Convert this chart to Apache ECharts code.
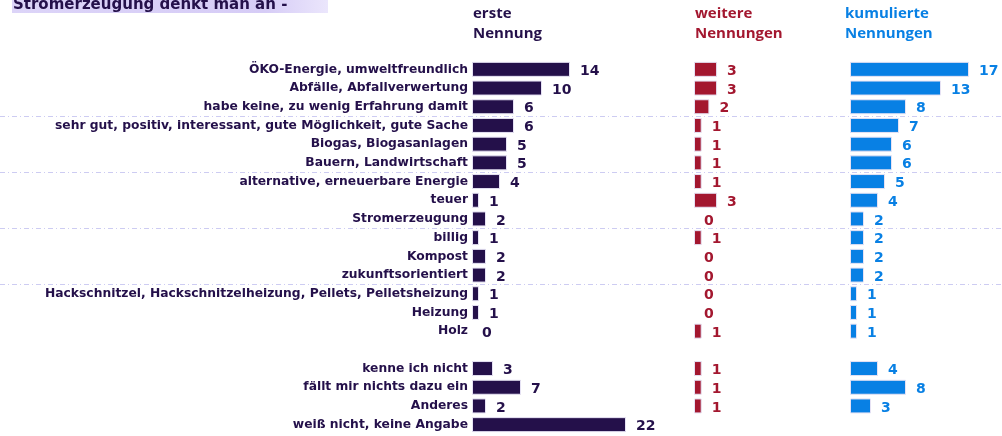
<!DOCTYPE html>
<html>
<head>
<meta charset="utf-8">
<script src="https://cdn.jsdelivr.net/npm/echarts@6/dist/echarts.min.js"></script>
<style>
  html, body { margin: 0; padding: 0; background: #fff; }
  #chart { width: 1002px; height: 436px; }
</style>
</head>
<body>
<div id="chart"></div>
<script>
// Kategorien (leerer Eintrag = Abstand vor dem letzten Block)
var categories = [
    'ÖKO-Energie, umweltfreundlich',
    'Abfälle, Abfallverwertung',
    'habe keine, zu wenig Erfahrung damit',
    'sehr gut, positiv, interessant, gute Möglichkeit, gute Sache',
    'Biogas, Biogasanlagen',
    'Bauern, Landwirtschaft',
    'alternative, erneuerbare Energie',
    'teuer',
    'Stromerzeugung',
    'billig',
    'Kompost',
    'zukunftsorientiert',
    'Hackschnitzel, Hackschnitzelheizung, Pellets, Pelletsheizung',
    'Heizung',
    'Holz',
    '',
    'kenne ich nicht',
    'fällt mir nichts dazu ein',
    'Anderes',
    'weiß nicht, keine Angabe'
];
var ersteNennung   = [14, 10, 6, 6, 5, 5, 4, 1, 2, 1, 2, 2, 1, 1, 0, '-', 3, 7, 2, 22];
var weitereNennung = [3, 3, 2, 1, 1, 1, 1, 3, 0, 1, 0, 0, 0, 0, 1, '-', 1, 1, 1, '-'];
var kumuliert      = [17, 13, 8, 7, 6, 6, 5, 4, 2, 2, 2, 2, 1, 1, 1, '-', 4, 8, 3, '-'];
// Trennlinien nach jeweils drei Zeilen
var separatorAt = [3, 6, 9, 12];

var headers = ['erste\nNennung', 'weitere\nNennungen', 'kumulierte\nNennungen'];
var titleText = 'Stromerzeugung denkt man an -';

var cDark = '#24104a';
var cRed = '#a3172f';
var cBlue = '#0880e4';
var gridTop = 60;
var gridBottom = 2;

function catAxis(gi, showLabels) {
    return {
        type: 'category',
        gridIndex: gi,
        data: categories,
        inverse: true,
        axisLine: { show: false },
        axisTick: { show: false },
        axisLabel: {
            show: showLabels,
            color: cDark,
            fontFamily: 'DejaVu Sans',
            fontWeight: 'bold',
            fontSize: 12.3,
            margin: 4
        },
        splitLine: { show: false }
    };
}

function valAxis(gi, max) {
    return { type: 'value', gridIndex: gi, min: 0, max: max, show: false };
}

function barSeries(name, gi, data, color) {
    // Nullwerte ohne Rahmen, sonst bleibt ein Strich stehen
    var items = data.map(function (v) {
        return v === 0 ? { value: 0, itemStyle: { borderWidth: 0 } } : v;
    });
    return {
        name: name,
        type: 'bar',
        xAxisIndex: gi,
        yAxisIndex: gi,
        data: items,
        barWidth: 15,
        itemStyle: { color: color, borderColor: '#e6e2f4', borderWidth: 1 },
        label: {
            show: true,
            position: 'right',
            distance: 10,
            offset: [0, 2],
            color: color,
            fontFamily: 'DejaVu Sans',
            fontWeight: 'bold',
            fontSize: 14
        },
        silent: true
    };
}

// eigene Achse nur fuer die gestrichelten Trennlinien ueber die ganze Breite
var boundaries = categories.concat(['']);
var sepAxis = {
    type: 'category',
    gridIndex: 3,
    data: boundaries,
    inverse: true,
    boundaryGap: false,
    axisLine: { show: false },
    axisTick: { show: false },
    axisLabel: { show: false },
    splitLine: {
        show: true,
        interval: function (index) { return separatorAt.indexOf(index) >= 0; },
        lineStyle: { color: '#cdccf2', width: 1, type: [5, 3, 1, 3] }
    }
};

var headerFont = 'bold 15px "Open Sans"';

var option = {
    animation: false,
    grid: [
        { left: 472, top: gridTop, bottom: gridBottom, width: 154 },
        { left: 694, top: gridTop, bottom: gridBottom, width: 77 },
        { left: 850, top: gridTop, bottom: gridBottom, width: 140 },
        { left: 0, right: 0, top: gridTop, bottom: gridBottom }
    ],
    xAxis: [valAxis(0, 22), valAxis(1, 10), valAxis(2, 20), valAxis(3, 10)],
    yAxis: [catAxis(0, true), catAxis(1, false), catAxis(2, false), sepAxis],
    series: [
        barSeries('erste Nennung', 0, ersteNennung, cDark),
        barSeries('weitere Nennungen', 1, weitereNennung, cRed),
        barSeries('kumulierte Nennungen', 2, kumuliert, cBlue)
    ],
    graphic: [
        {
            type: 'rect',
            shape: { x: 12, y: 0, width: 316, height: 13 },
            style: {
                fill: new echarts.graphic.LinearGradient(0, 0, 1, 0, [
                    { offset: 0, color: '#dcd4f8' },
                    { offset: 0.8, color: '#d6ccf6' },
                    { offset: 1, color: '#ebe6fc' }
                ])
            },
            z: 1
        },
        {
            type: 'text',
            x: 13, y: 13,
            style: {
                text: titleText, fill: cDark, font: 'bold 15px "DejaVu Sans"',
                textVerticalAlign: 'bottom'
            },
            z: 2
        },
        {
            type: 'text', x: 473, y: 4,
            style: { text: headers[0], fill: cDark, font: headerFont, lineHeight: 20 }
        },
        {
            type: 'text', x: 695, y: 4,
            style: { text: headers[1], fill: cRed, font: headerFont, lineHeight: 20 }
        },
        {
            type: 'text', x: 845, y: 4,
            style: { text: headers[2], fill: cBlue, font: headerFont, lineHeight: 20 }
        }
    ]
};

var chart = echarts.init(document.getElementById('chart'));
chart.setOption(option);
</script>
</body>
</html>
